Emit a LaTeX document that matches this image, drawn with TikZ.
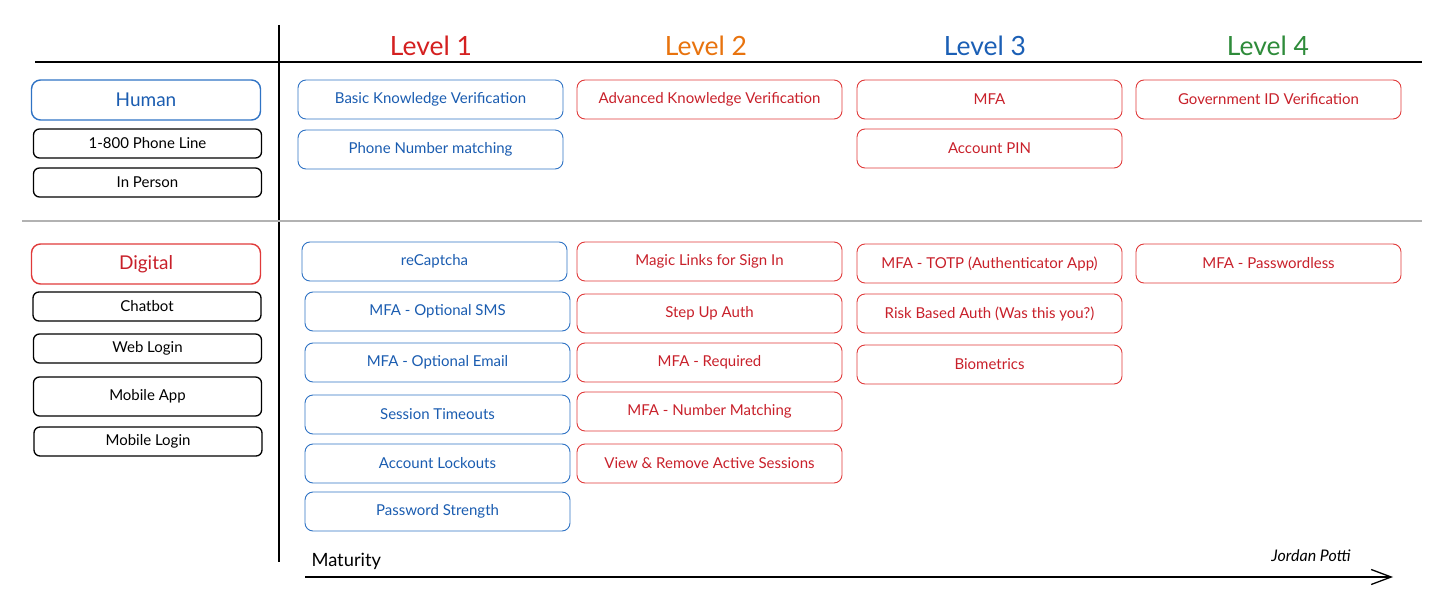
\documentclass[tikz,border=0pt]{standalone}
\usepackage{fontspec}
\setmainfont{Lato}
\usetikzlibrary{arrows.meta}
\definecolor{lvred}{HTML}{D42020}
\definecolor{lvorange}{HTML}{E8730E}
\definecolor{lvblue}{HTML}{1B5FB5}
\definecolor{lvgreen}{HTML}{2E8B3A}
\definecolor{bxblue}{HTML}{2F73C4}
\definecolor{txblue}{HTML}{1A5CB0}
\definecolor{bxred}{HTML}{E03A3A}
\definecolor{txred}{HTML}{C8202A}
\tikzset{
  cell/.style={draw, rounded corners=8pt, line width=0.9pt, minimum width=265pt, minimum height=39pt, font=\fontsize{15}{17}\selectfont, inner sep=0pt},
  bcell/.style={cell, draw=bxblue, text=txblue},
  rcell/.style={cell, draw=bxred, text=txred},
  chan/.style={draw=black, rounded corners=6pt, line width=1.3pt, minimum width=228pt, minimum height=29pt, font=\fontsize{15}{17}\selectfont, inner sep=0pt},
  cat/.style={draw, rounded corners=9pt, line width=1.4pt, minimum width=229pt, minimum height=40pt, font=\fontsize{19}{21}\selectfont, inner sep=0pt},
  lvl/.style={font=\fontsize{26.5}{28}\selectfont},
  rule/.style={line width=1.3pt, black},
}
\begin{document}
\begin{tikzpicture}[x=1pt,y=-1pt]
\useasboundingbox (0,0) rectangle (1456,602);
% frame lines
\coordinate (vtop) at (279,25);
\coordinate (vbot) at (279,562);
\coordinate (hl) at (35,62);
\coordinate (hr) at (1422,62);
\coordinate (gl) at (22,221);
\coordinate (gr) at (1422,221);
\draw[rule] (vtop) -- (vbot);
\draw[rule] (hl) -- (hr);
\draw[line width=1.2pt, black!30] (gl) -- (gr);
% level headings
\node[lvl, text=lvred] (l1) at (431,46) {Level 1};
\node[lvl, text=lvorange] (l2) at (706,46) {Level 2};
\node[lvl, text=lvblue] (l3) at (985,46) {Level 3};
\node[lvl, text=lvgreen] (l4) at (1268,46) {Level 4};
% left categories
\node[cat, draw=bxblue, text=txblue] (human) at (146,100) {Human};
\node[chan] (phone) at (147.5,143.5) {1-800 Phone Line};
\node[chan] (person) at (147.5,182.5) {In Person};
\node[cat, draw=bxred, text=txred] (digital) at (146,264) {Digital};
\node[chan] (chatbot) at (147,306.5) {Chatbot};
\node[chan] (web) at (147.5,348.5) {Web Login};
\node[chan, minimum height=39pt] (app) at (147.5,396.5) {Mobile App};
\node[chan] (mlogin) at (148,441.5) {Mobile Login};
% level 1
\node[bcell] (bkv) at (430.5,99.5) {Basic Knowledge Verification};
\node[bcell] (pnm) at (430.5,149.5) {Phone Number matching};
\node[bcell] (recap) at (434.5,261.5) {reCaptcha};
\node[bcell] (sms) at (437.5,311.5) {MFA - Optional SMS};
\node[bcell] (email) at (437.5,362.5) {MFA - Optional Email};
\node[bcell] (sess) at (437.5,414.5) {Session Timeouts};
\node[bcell] (lock) at (437.5,463.5) {Account Lockouts};
\node[bcell] (pwd) at (437.5,511.5) {Password Strength};
% level 2
\node[rcell] (akv) at (709.5,99.5) {Advanced Knowledge Verification};
\node[rcell] (magic) at (709.5,261.5) {Magic Links for Sign In};
\node[rcell] (step) at (709.5,313.5) {Step Up Auth};
\node[rcell] (req) at (709.5,362.5) {MFA - Required};
\node[rcell] (num) at (709.5,411.5) {MFA - Number Matching};
\node[rcell] (view) at (709.5,463.5) {View \& Remove Active Sessions};
% level 3
\node[rcell] (mfa) at (989.5,99.5) {MFA};
\node[rcell] (pin) at (989.5,148.5) {Account PIN};
\node[rcell] (totp) at (989.5,263.5) {MFA - TOTP (Authenticator App)};
\node[rcell] (risk) at (989.5,313.5) {Risk Based Auth (Was this you?)};
\node[rcell] (bio) at (989.5,364.5) {Biometrics};
% level 4
\node[rcell] (gov) at (1268.5,99.5) {Government ID Verification};
\node[rcell] (pwl) at (1268.5,263.5) {MFA - Passwordless};
% maturity axis
\node[anchor=west, font=\fontsize{18.3}{20}\selectfont] (mat) at (308,561) {Maturity};
\node[font=\fontsize{16}{18}\selectfont\itshape] (author) at (1311,556) {Jordan Potti};
\coordinate (as) at (305,577);
\coordinate (ae) at (1393,577);
\draw[line width=1.3pt, -{Straight Barb[length=20pt, width=15pt, line width=1.3pt]}] (as) -- (ae);
\end{tikzpicture}
\end{document}
